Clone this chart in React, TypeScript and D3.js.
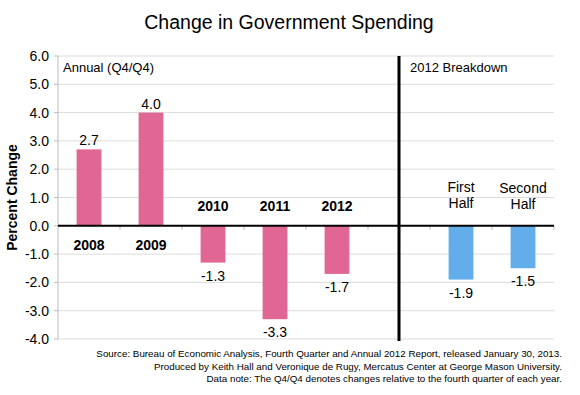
import React from "react";
import * as d3 from "d3";

const categories = ["2008", "2009", "2010", "2011", "2012", "", "First Half", "Second Half"];
const values: (number | null)[] = [2.7, 4.0, -1.3, -3.3, -1.7, null, -1.9, -1.5];
const groups = ["annual", "annual", "annual", "annual", "annual", "gap", "half", "half"];
const yTicks = [6, 5, 4, 3, 2, 1, 0, -1, -2, -3, -4];
const footnotes = [
  "Source: Bureau of Economic Analysis, Fourth Quarter and Annual 2012 Report, released January 30, 2013.",
  "Produced by Keith Hall and Veronique de Rugy, Mercatus Center at George Mason University.",
  "Data note: The Q4/Q4 denotes changes relative to the fourth quarter of each year.",
];

const W = 580, H = 395;
const left = 58, right = 554, top = 56, bottom = 339;
const font = "'Liberation Sans', Arial, Helvetica, sans-serif";

export default function App() {
  const x = d3.scaleBand<number>().domain(d3.range(categories.length)).range([left, right]).paddingInner(0.6).paddingOuter(0.3);
  const xb = d3.scaleBand<number>().domain(d3.range(categories.length)).range([left, right]);
  const y = d3.scaleLinear().domain([-4, 6]).range([bottom, top]);
  const y0 = y(0);
  const sepX = (xb(5) as number) + xb.bandwidth() / 2;

  return (
    <svg width={W} height={H} style={{ position: "absolute", left: 0, top: 0, background: "#fff" }} fontFamily={font}>
      <rect width={W} height={H} fill="#fff" />
      <text x={289} y={29} textAnchor="middle" fontSize={19.5} fill="#000">Change in Government Spending</text>
      {yTicks.map((t) => (
        <g key={t}>
          {t !== 0 && <line x1={left} x2={right} y1={y(t)} y2={y(t)} stroke="#dcdcdc" strokeWidth={1} />}
          <line x1={left - 4} x2={left} y1={y(t)} y2={y(t)} stroke="#bbb" />
          <text x={left - 9} y={y(t) + 5} textAnchor="end" fontSize={14} fill="#000">{t.toFixed(1)}</text>
        </g>
      ))}
      <line x1={left} x2={left} y1={top} y2={bottom} stroke="#bbb" />
      {d3.range(1, categories.length + 1).map((i) => {
        const xx = left + i * xb.bandwidth();
        return <line key={i} x1={xx} x2={xx} y1={y0} y2={y0 + 4} stroke="#bbb" />;
      })}
      {values.map((v, i) => {
        if (v === null) return null;
        const bx = x(i) as number;
        const cx = bx + x.bandwidth() / 2;
        const color = groups[i] === "half" ? "#63AEEA" : "#E06694";
        const yt = y(Math.max(0, v));
        const yb = y(Math.min(0, v));
        return (
          <g key={i}>
            <rect x={bx} y={yt} width={x.bandwidth()} height={yb - yt} fill={color} />
            <text x={cx} y={v >= 0 ? yt - 4 : yb + 18} textAnchor="middle" fontSize={14} fill="#000">
              {v.toFixed(1)}
            </text>
          </g>
        );
      })}
      <line x1={left} x2={right} y1={y0} y2={y0} stroke="#000" strokeWidth={2} />
      {categories.map((c, i) => {
        const v = values[i];
        if (v === null || !c) return null;
        const cx = (xb(i) as number) + xb.bandwidth() / 2;
        if (groups[i] === "half") {
          const parts = c.split(" ");
          return (
            <text key={i} x={cx} y={y0 - 34 + (i === 7 ? 1 : 0)} textAnchor="middle" fontSize={14} fill="#000">
              <tspan x={cx}>{parts[0]}</tspan>
              <tspan x={cx} dy={16}>{parts[1]}</tspan>
            </text>
          );
        }
        return (
          <text key={i} x={cx} y={v >= 0 ? y0 + 24 : y0 - 15} textAnchor="middle" fontSize={14} fontWeight="bold" fill="#000">
            {c}
          </text>
        );
      })}
      <line x1={sepX} x2={sepX} y1={top} y2={341} stroke="#000" strokeWidth={3} />
      <text x={63} y={72} fontSize={13} fill="#000">Annual (Q4/Q4)</text>
      <text x={410} y={72} fontSize={13} fill="#000">2012 Breakdown</text>
      <text transform={`translate(17,${(top + bottom) / 2}) rotate(-90)`} textAnchor="middle" fontSize={14} fontWeight="bold" fill="#000">
        Percent Change
      </text>
      {footnotes.map((f, i) => (
        <text key={i} x={562} y={357 + i * 12.5} textAnchor="end" fontSize={9.8} fill="#000">{f}</text>
      ))}
    </svg>
  );
}
